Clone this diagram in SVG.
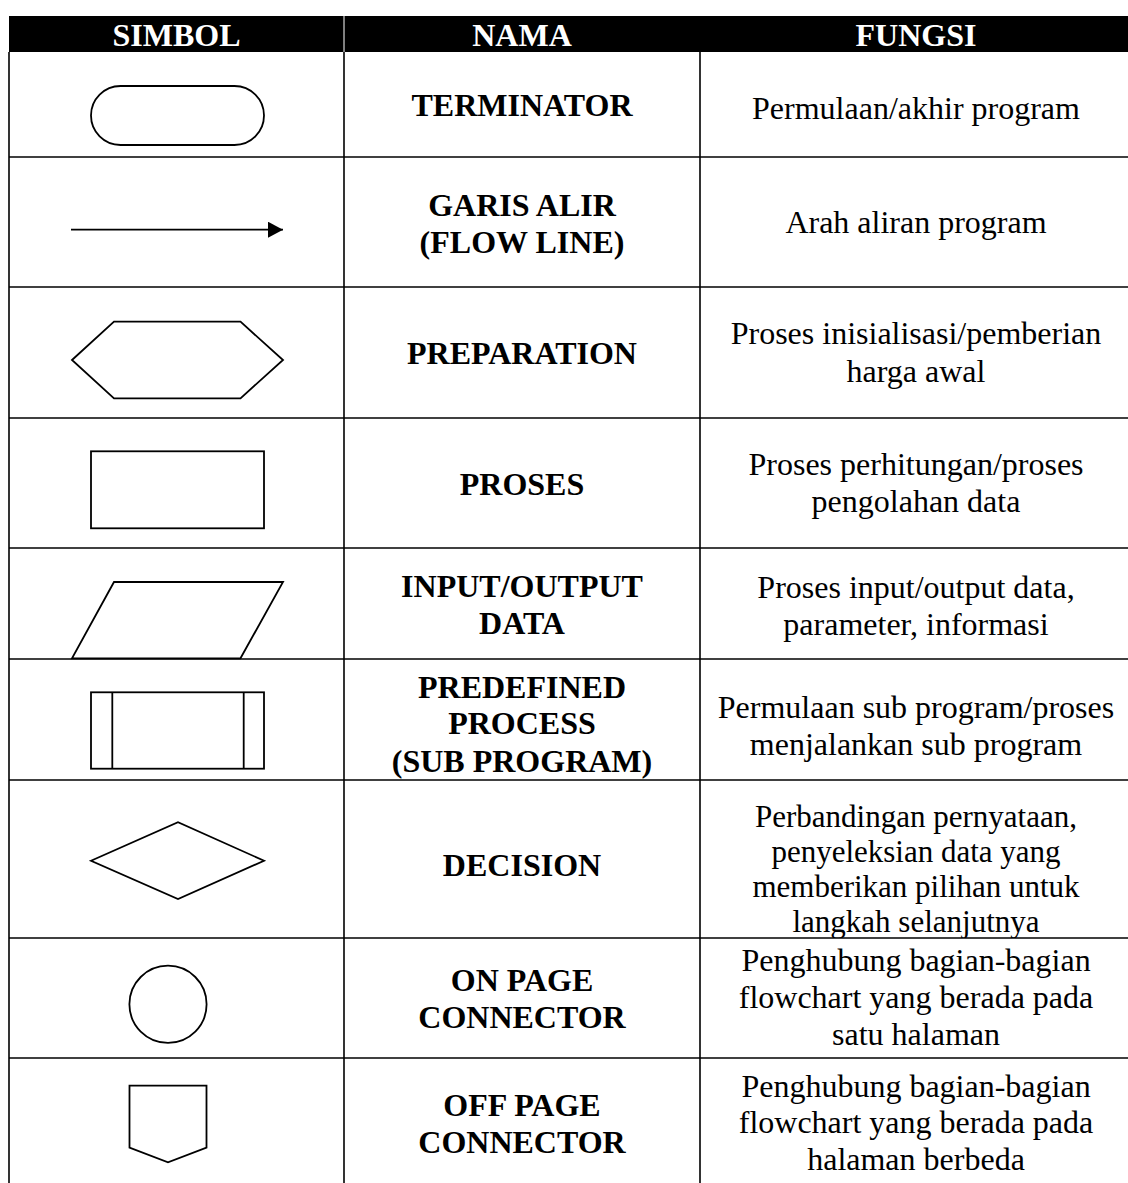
<svg xmlns="http://www.w3.org/2000/svg" width="1128" height="1183" viewBox="0 0 1128 1183">
<style>
  .grid { stroke:#000; stroke-width:1.6; fill:none; }
  .sym { stroke:#000; stroke-width:1.8; fill:#fff; stroke-linejoin:miter; }
  .hd { font-family:"Liberation Serif","Times New Roman",serif; font-weight:bold; font-size:32px; fill:#fff; text-anchor:middle; }
  .nm { font-family:"Liberation Serif","Times New Roman",serif; font-weight:bold; font-size:32px; fill:#000; text-anchor:middle; }
  .fn { font-family:"Liberation Serif","Times New Roman",serif; font-size:32px; fill:#000; text-anchor:middle; }
  .fs { font-size:31px; }
</style>
<defs>
  <marker id="arrow" markerUnits="userSpaceOnUse" markerWidth="16" markerHeight="16" refX="15" refY="8" orient="auto">
    <path d="M0,0 L15,8 L0,16 Z" fill="#000"/>
  </marker>
  <clipPath id="r7clip"><rect x="700" y="780" width="428" height="158"/></clipPath>
</defs>
<rect width="1128" height="1183" fill="#fff"/>

<g id="header">
  <rect x="9" y="16" width="1119" height="36" fill="#000"/>
  <line x1="344" y1="16" x2="344" y2="52" stroke="#fff" stroke-width="1"/>
  <text class="hd" x="176.5" y="45.5">SIMBOL</text>
  <text class="hd" x="522" y="45.5">NAMA</text>
  <text class="hd" x="916" y="45.5">FUNGSI</text>
</g>

<g id="connectors" class="grid">
  <line x1="9" y1="52" x2="9" y2="1183"/>
  <line x1="344" y1="52" x2="344" y2="1183"/>
  <line x1="700" y1="52" x2="700" y2="1183"/>
  <line x1="9" y1="157" x2="1128" y2="157"/>
  <line x1="9" y1="287" x2="1128" y2="287"/>
  <line x1="9" y1="418" x2="1128" y2="418"/>
  <line x1="9" y1="548" x2="1128" y2="548"/>
  <line x1="9" y1="659" x2="1128" y2="659"/>
  <line x1="9" y1="780" x2="1128" y2="780"/>
  <line x1="9" y1="938" x2="1128" y2="938"/>
  <line x1="9" y1="1058" x2="1128" y2="1058"/>
</g>

<g id="row-terminator">
  <rect class="sym" x="91" y="86" width="173" height="59" rx="29.5" ry="29.5"/>
  <text class="nm" x="522" y="116">TERMINATOR</text>
  <text class="fn" x="916" y="119">Permulaan/akhir program</text>
</g>

<g id="row-flowline">
  <line x1="71" y1="229.7" x2="283" y2="229.7" stroke="#000" stroke-width="1.8" marker-end="url(#arrow)"/>
  <text class="nm" x="522" y="216">GARIS ALIR</text>
  <text class="nm" x="522" y="253">(FLOW LINE)</text>
  <text class="fn" x="916" y="233">Arah aliran program</text>
</g>

<g id="row-preparation">
  <polygon class="sym" points="72,360 114,321.7 240.5,321.7 283,360 240.5,398.3 114,398.3"/>
  <text class="nm" x="522" y="364">PREPARATION</text>
  <text class="fn" x="916" y="344.3">Proses inisialisasi/pemberian</text>
  <text class="fn" x="916" y="381.7">harga awal</text>
</g>

<g id="row-proses">
  <rect class="sym" x="91" y="451.3" width="173" height="77"/>
  <text class="nm" x="522" y="495">PROSES</text>
  <text class="fn" x="916" y="475">Proses perhitungan/proses</text>
  <text class="fn" x="916" y="512.3">pengolahan data</text>
</g>

<g id="row-io">
  <polygon class="sym" points="114,582 283,582 240.5,658.3 72,658.3"/>
  <text class="nm" x="522" y="597">INPUT/OUTPUT</text>
  <text class="nm" x="522" y="634">DATA</text>
  <text class="fn" x="916" y="598">Proses input/output data,</text>
  <text class="fn" x="916" y="635">parameter, informasi</text>
</g>

<g id="row-predefined">
  <rect class="sym" x="91" y="692.3" width="173" height="76.4"/>
  <line x1="112.3" y1="692.3" x2="112.3" y2="768.7" stroke="#000" stroke-width="1.8"/>
  <line x1="243.7" y1="692.3" x2="243.7" y2="768.7" stroke="#000" stroke-width="1.8"/>
  <text class="nm" x="522" y="697.7">PREDEFINED</text>
  <text class="nm" x="522" y="734.3">PROCESS</text>
  <text class="nm" x="522" y="771.5">(SUB PROGRAM)</text>
  <text class="fn" x="916" y="718.3">Permulaan sub program/proses</text>
  <text class="fn" x="916" y="755">menjalankan sub program</text>
</g>

<g id="row-decision">
  <polygon class="sym" points="91,860.7 178,822.3 264,860.7 178,899"/>
  <text class="nm" x="522" y="876">DECISION</text>
  <g clip-path="url(#r7clip)">
    <text class="fn fs" x="916" y="827">Perbandingan pernyataan,</text>
    <text class="fn fs" x="916" y="862">penyeleksian data yang</text>
    <text class="fn fs" x="916" y="897">memberikan pilihan untuk</text>
    <text class="fn fs" x="916" y="932">langkah selanjutnya</text>
  </g>
</g>

<g id="row-onpage">
  <circle class="sym" cx="168" cy="1004.3" r="38.6"/>
  <text class="nm" x="522" y="991">ON PAGE</text>
  <text class="nm" x="522" y="1027.7">CONNECTOR</text>
  <text class="fn" x="916" y="971">Penghubung bagian-bagian</text>
  <text class="fn" x="916" y="1008">flowchart yang berada pada</text>
  <text class="fn" x="916" y="1045">satu halaman</text>
</g>

<g id="row-offpage">
  <polygon class="sym" points="129.5,1085.7 206.5,1085.7 206.5,1147.7 168,1162.3 129.5,1147.7"/>
  <text class="nm" x="522" y="1116">OFF PAGE</text>
  <text class="nm" x="522" y="1152.7">CONNECTOR</text>
  <text class="fn" x="916" y="1096.7">Penghubung bagian-bagian</text>
  <text class="fn" x="916" y="1133.3">flowchart yang berada pada</text>
  <text class="fn" x="916" y="1170">halaman berbeda</text>
</g>
</svg>
